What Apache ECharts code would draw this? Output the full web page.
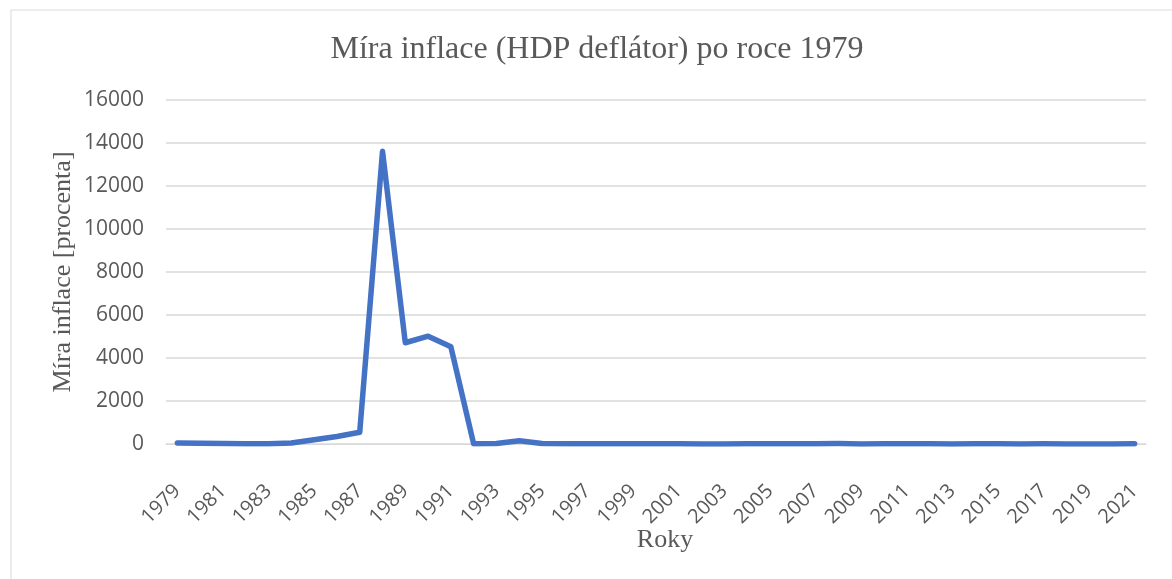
<!DOCTYPE html>
<html>
<head>
<meta charset="utf-8">
<script src="https://cdn.jsdelivr.net/npm/echarts@6/dist/echarts.min.js"></script>
<style>
  html, body { margin: 0; padding: 0; background: #fff; }
  #chart { width: 1172px; height: 579px; }
</style>
</head>
<body>
<div id="chart"></div>
<script>
var years = [];
for (var y = 1979; y <= 2021; y++) years.push(String(y));

// míra inflace (HDP deflátor), procenta
var inflace = [
  45, 30, 19, 16, 10, 45, 200, 350, 550, 13611,
  4709, 5016, 4520, 10, 20, 150, 25, 10, 9, 12,
  9, 8, 6, 3, 5, 8, 9, 9, 10, 18,
  5, 6, 9, 7, 4, 6, 8, 4, 6, 4,
  4, 3, 7
];

var yTicks = { min: 0, max: 16000, interval: 2000 };

var chart = echarts.init(document.getElementById('chart'));
chart.setOption({
  animation: false,
  graphic: [{
    type: 'rect',
    shape: { x: 11, y: 10, width: 1200, height: 600 },
    style: { fill: 'none', stroke: '#d9d9d9', lineWidth: 1 }
  }],
  title: {
    text: 'Míra inflace (HDP deflátor) po roce 1979',
    left: 592,
    top: 29,
    textAlign: 'center',
    textStyle: {
      fontFamily: 'Liberation Serif',
      fontWeight: 'normal',
      fontSize: 32,
      color: '#595959'
    }
  },
  grid: { left: 166, right: 26, top: 100, bottom: 135, outerBoundsMode: 'none' },
  xAxis: {
    type: 'category',
    data: years,
    name: 'Roky',
    nameLocation: 'middle',
    nameGap: 83,
    nameMoveOverlap: false,
    nameTextStyle: {
      fontFamily: 'Liberation Serif',
      fontSize: 26,
      color: '#595959',
      padding: [0, 0, 0, 18]
    },
    axisLine: { lineStyle: { color: '#d9d9d9', width: 1 } },
    axisTick: { show: false },
    axisLabel: {
      interval: 1,
      rotate: 45,
      margin: 44,
      fontFamily: 'Open Sans',
      fontSize: 20,
      color: '#595959'
    }
  },
  yAxis: {
    type: 'value',
    min: yTicks.min,
    max: yTicks.max,
    interval: yTicks.interval,
    name: 'Míra inflace [procenta]',
    nameLocation: 'middle',
    nameGap: 90,
    nameMoveOverlap: false,
    nameTextStyle: { fontFamily: 'Liberation Serif', fontSize: 26, color: '#595959' },
    axisLine: { show: false },
    axisTick: { show: false },
    axisLabel: {
      margin: 22,
      fontFamily: 'Open Sans',
      fontSize: 21,
      color: '#595959',
      formatter: function (v) { return String(v); }
    },
    splitLine: { lineStyle: { color: '#d9d9d9', width: 1.5 } }
  },
  series: [{
    type: 'line',
    data: inflace,
    showSymbol: false,
    lineStyle: { color: '#4472C4', width: 5.5, cap: 'round', join: 'round' }
  }]
});
</script>
</body>
</html>
